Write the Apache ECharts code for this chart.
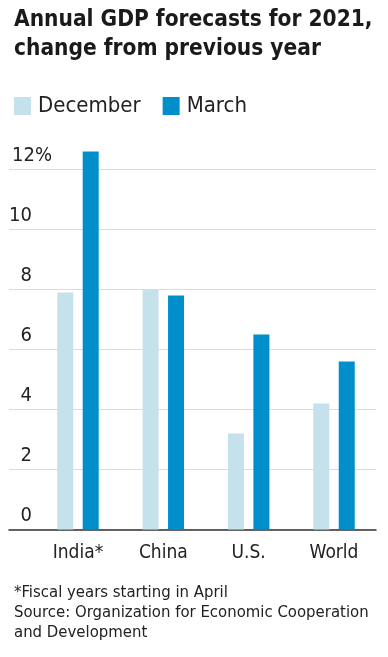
<!DOCTYPE html>
<html><head><meta charset="utf-8">
<script src="https://cdn.jsdelivr.net/npm/echarts@6/dist/echarts.min.js"></script>
<style>html,body{margin:0;padding:0;background:#fff}#c{width:388px;height:657px}</style>
</head><body><div id="c"></div>
<script>
const categories = ['India*', 'China', 'U.S.', 'World'];
const december = [7.9, 8.0, 3.2, 4.2];
const march = [12.6, 7.8, 6.5, 5.6];
const yTicks = [0, 2, 4, 6, 8, 10, 12];

const FONT = '"DejaVu Sans Condensed", "Liberation Sans Narrow", Roboto, sans-serif';
const chart = echarts.init(document.getElementById('c'), null, {renderer: 'canvas'});
const top0 = 169.5, bottom0 = 657 - 529.5, unit = 30;
chart.setOption({
  animation: false,
  textStyle: {fontFamily: FONT},
  title: [
    {text: 'Annual GDP forecasts for 2021,\nchange from previous year', left: 9, top: 1,
     textStyle: {fontFamily: FONT, fontWeight: 'bold', fontSize: 22.5, lineHeight: 29, color: '#1a1a1a'}},
    {text: '*Fiscal years starting in April\nSource: Organization for Economic Cooperation\nand Development', left: 9, top: 578,
     textStyle: {fontFamily: FONT, fontWeight: 'normal', fontSize: 16.6, lineHeight: 20, color: '#222'}}
  ],
  legend: {
    left: 9, top: 90, icon: 'rect', itemWidth: 17, itemHeight: 18, itemGap: 22,
    textStyle: {fontFamily: FONT, fontSize: 22, color: '#222', padding: [0, 0, 0, 2]},
    data: ['December', 'March']
  },
  grid: [
    {left: 9, right: 12, top: top0, bottom: bottom0},
    {left: 35.3, right: 11.3, top: top0 - unit, bottom: bottom0}
  ],
  xAxis: [
    {gridIndex: 0, type: 'category', data: [''], axisLine: {lineStyle: {color: '#333', width: 1.5}},
     axisTick: {show: false}, axisLabel: {show: false}},
    {gridIndex: 1, type: 'category', data: categories, axisLine: {show: false}, axisTick: {show: false},
     axisLabel: {fontFamily: FONT, fontSize: 19, color: '#222', margin: 14}}
  ],
  yAxis: [
    {gridIndex: 0, type: 'value', min: 0, max: 12, interval: 2,
     axisLine: {show: false}, axisTick: {show: false},
     splitLine: {lineStyle: {color: '#dcdcdc', width: 1}},
     axisLabel: {inside: true, margin: 0, verticalAlign: 'bottom', padding: [0, 0, 4, 0],
       formatter: v => v === yTicks[yTicks.length - 1] ? '{m|' + v + '%}' : '{n|' + v + '}',
       rich: {n: {width: 23, align: 'right', fontSize: 20, color: '#222', fontFamily: FONT},
              m: {align: 'left', padding: [0, 0, 0, 3], fontSize: 20, color: '#222', fontFamily: FONT}}}},
    {gridIndex: 1, type: 'value', min: 0, max: 13, interval: 1, show: false}
  ],
  series: [
    {name: 'December', type: 'bar', xAxisIndex: 1, yAxisIndex: 1, data: december,
     barWidth: 16, barGap: '59%', itemStyle: {color: '#c4e1ec'}},
    {name: 'March', type: 'bar', xAxisIndex: 1, yAxisIndex: 1, data: march,
     barWidth: 16, barGap: '59%', itemStyle: {color: '#008fca'}}
  ]
});
</script></body></html>
